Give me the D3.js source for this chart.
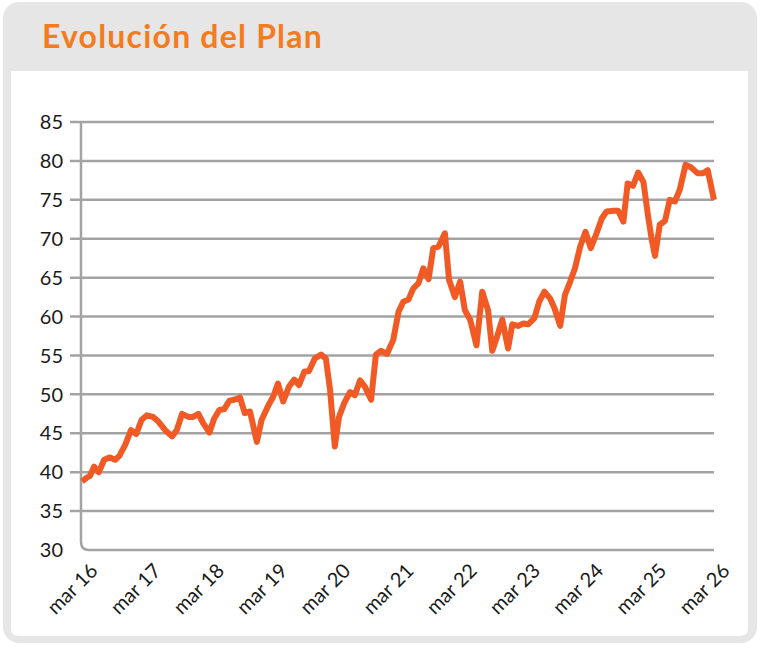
<!DOCTYPE html>
<html>
<head>
<meta charset="utf-8">
<script src="https://cdn.jsdelivr.net/npm/d3@7"></script>
<style>
  body { margin: 0; background: #fff; }
  svg { display: block; font-family: Lato, "Open Sans", sans-serif; }
</style>
</head>
<body>
<div class="display"></div>
<script>
// months since mar 2016
const months = [0, 0.9, 1.5, 2.3, 3.2, 4.2, 5.3, 6.3, 7.1, 8.2, 9.3, 10.3, 11.3, 12.3, 13.5, 14.5, 15.8, 17.1, 18.0, 19.0,
  20.2, 21.1, 22.1, 23.0, 24.2, 25.1, 26.1, 27.0, 28.0, 28.9, 30.0, 30.9, 31.9, 33.2, 34.1, 35.4, 36.3, 37.2, 38.2, 39.3,
  40.3, 41.2, 42.2, 43.1, 44.2, 45.4, 46.3, 47.1, 48.0, 48.8, 49.8, 50.9, 51.8, 52.8, 53.7, 54.9, 55.8, 56.8, 57.9, 59.1,
  60.1, 61.0, 62.0, 62.9, 63.9, 64.8, 65.8, 66.7, 67.7, 68.9, 69.7, 70.8, 71.8, 72.7, 73.7, 74.9, 76.0, 77.1, 77.9, 78.9,
  79.8, 80.9, 81.7, 82.8, 83.8, 84.7, 85.9, 86.8, 87.8, 88.9, 89.7, 90.8, 91.7, 92.7, 93.6, 94.6, 95.6, 96.6, 97.7, 98.7,
  99.6, 100.9, 101.8, 102.8, 103.6, 104.6, 105.6, 106.6, 107.5, 108.2, 108.8, 109.7, 110.7, 111.6, 112.6, 113.5, 114.6, 115.6, 116.9, 117.9,
  118.8, 120];
const values = [38.8, 39.3, 39.5, 40.7, 40.0, 41.6, 41.9, 41.6, 42.1, 43.5, 45.4, 44.9, 46.7, 47.3, 47.1, 46.5, 45.4, 44.6, 45.4, 47.5,
  47.1, 47.1, 47.5, 46.3, 45.1, 46.9, 48.0, 48.1, 49.2, 49.3, 49.6, 47.6, 47.8, 43.9, 46.7, 48.6, 49.7, 51.4, 49.1, 51.0,
  51.9, 51.2, 52.9, 53.0, 54.6, 55.1, 54.6, 50.6, 43.3, 47.1, 48.9, 50.3, 49.9, 51.8, 51.0, 49.3, 55.1, 55.6, 55.2, 57.0,
  60.6, 61.9, 62.2, 63.6, 64.3, 66.2, 64.8, 68.8, 69.0, 70.7, 64.7, 62.5, 64.5, 60.8, 59.6, 56.3, 63.2, 60.8, 55.6, 57.6,
  59.6, 55.9, 59.0, 58.8, 59.1, 59.0, 59.8, 61.9, 63.2, 62.3, 61.1, 58.8, 62.8, 64.5, 66.2, 69.0, 70.9, 68.8, 70.7, 72.6,
  73.5, 73.6, 73.6, 72.2, 77.1, 76.8, 78.5, 77.3, 72.8, 69.8, 67.8, 71.8, 72.3, 75.0, 74.8, 76.3, 79.5, 79.2, 78.4, 78.4,
  78.8, 75.0];
const yTicks = [30, 35, 40, 45, 50, 55, 60, 65, 70, 75, 80, 85];
const xTicks = [0, 12, 24, 36, 48, 60, 72, 84, 96, 108, 120];
const xTickLabels = ['mar 16', 'mar 17', 'mar 18', 'mar 19', 'mar 20', 'mar 21', 'mar 22', 'mar 23', 'mar 24', 'mar 25', 'mar 26'];
const title = 'Evolución del Plan';

const width = 761, height = 648;
const plot = { left: 82, right: 714, top: 122, bottom: 550 };

const svg = d3.select('.display').append('svg')
  .attr('width', width)
  .attr('height', height);

// card
svg.append('rect')
  .attr('x', 3).attr('y', 2)
  .attr('width', 754).attr('height', 641)
  .attr('rx', 16).attr('ry', 16)
  .attr('fill', '#e6e6e6');

svg.append('path')
  .attr('fill', '#ffffff')
  .attr('d', 'M11,71 H748 V628 Q748,636 740,636 H19 Q11,636 11,628 Z');

svg.append('text')
  .attr('x', 42)
  .attr('y', 48)
  .attr('fill', '#f47c20')
  .style('font-size', '32px')
  .style('font-weight', 'bold')
  .style('letter-spacing', '1.2px')
  .text(title);

const x = d3.scaleLinear().domain([0, 120]).range([plot.left, plot.right]);
const y = d3.scaleLinear().domain([30, 85]).range([plot.bottom, plot.top]);

// grid lines with ticks sticking out to the left
svg.append('g')
  .selectAll('line')
  .data(yTicks.filter(d => d > 30))
  .enter()
  .append('line')
  .attr('x1', plot.left - 12)
  .attr('x2', plot.right)
  .attr('y1', d => y(d))
  .attr('y2', d => y(d))
  .attr('stroke', '#a3a3a3')
  .attr('stroke-width', 2.5);

// axis frame with rounded corner
svg.append('path')
  .attr('fill', 'none')
  .attr('stroke', '#a3a3a3')
  .attr('stroke-width', 2.5)
  .attr('d', `M${plot.left - 1},${plot.top} V${plot.bottom - 8} Q${plot.left - 1},${plot.bottom} ${plot.left + 7},${plot.bottom} H${plot.right}`);

svg.append('g')
  .selectAll('text')
  .data(yTicks)
  .enter()
  .append('text')
  .attr('x', 63)
  .attr('y', d => y(d))
  .attr('dy', '0.36em')
  .attr('text-anchor', 'end')
  .attr('fill', '#1a1a1a')
  .style('font-size', '20px')
  .text(d => d);

svg.append('g')
  .selectAll('text')
  .data(xTicks)
  .enter()
  .append('text')
  .attr('transform', d => `translate(${x(d) + 17}, ${plot.bottom + 22}) rotate(-45)`)
  .attr('text-anchor', 'end')
  .attr('fill', '#1a1a1a')
  .style('font-size', '20px')
  .text((d, i) => xTickLabels[i]);

const line = d3.line()
  .x((d, i) => x(months[i]))
  .y(d => y(d));

svg.append('path')
  .datum(values)
  .attr('fill', 'none')
  .attr('stroke', '#f15a24')
  .attr('stroke-width', 6)
  .attr('stroke-linejoin', 'round')
  .attr('d', line);
</script>
</body>
</html>
